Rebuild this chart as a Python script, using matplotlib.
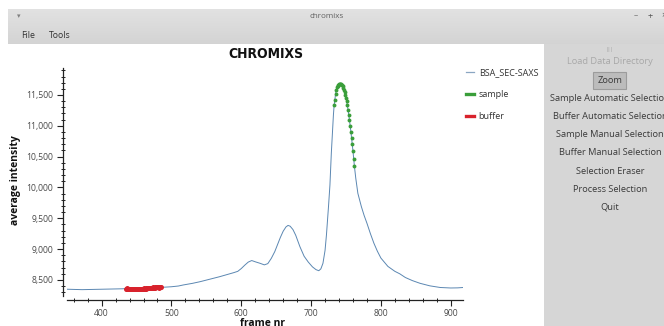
import matplotlib
matplotlib.use('Agg')
import matplotlib.pyplot as plt
from matplotlib.ticker import MultipleLocator, FuncFormatter
from matplotlib.patches import Rectangle
from matplotlib.lines import Line2D
import numpy as np

plt.rcParams['font.family'] = ['Open Sans', 'DejaVu Sans']

# ---------------- data ----------------
trace_frames = [350, 360, 372, 385, 398, 410, 422, 430,
                490, 500, 510, 517, 530, 541, 555, 569, 580, 589, 595, 600, 605,
                610, 615, 620, 627, 633, 638, 643, 648, 652, 656, 660, 664, 667,
                670, 674, 678, 684, 690, 696, 702, 707, 711, 714, 717, 720, 722,
                725, 727, 729, 731, 732,
                764, 767, 772, 776, 780, 785, 790, 795, 800, 810, 820, 827, 835,
                845, 856, 870, 885, 900, 910, 918]
trace_values = [8350, 8346, 8343, 8346, 8350, 8352, 8354, 8357,
                8383, 8390, 8402, 8419, 8445, 8472, 8512, 8553, 8588, 8618, 8640, 8685, 8740,
                8790, 8815, 8795, 8770, 8745, 8765, 8850, 8960, 9075, 9190, 9290, 9360, 9385,
                9372, 9318, 9225, 9040, 8885, 8790, 8712, 8668, 8650, 8680, 8770, 8980, 9230,
                9700, 10040, 10560, 10990, 11180,
                10150, 9905, 9690, 9545, 9420, 9250, 9095, 8965, 8855, 8720, 8640, 8600, 8540,
                8490, 8446, 8405, 8378, 8370, 8372, 8378]

sample_frames = list(range(733, 763))
sample_values = [11330, 11420, 11510, 11580, 11625, 11652, 11668, 11676, 11680, 11680,
                 11674, 11662, 11643, 11618, 11585, 11545, 11500, 11450, 11395, 11330,
                 11255, 11175, 11090, 11000, 10905, 10805, 10700, 10590, 10470, 10350]

buffer_frames = list(range(435, 486))
buffer_values = [8360, 8358, 8362, 8357, 8361, 8356, 8359, 8355, 8360, 8357, 8354,
                 8358, 8355, 8359, 8356, 8353, 8357, 8354, 8358, 8355, 8359, 8356, 8360, 8357, 8361, 8358,
                 8362, 8359, 8363, 8360, 8364, 8362, 8366, 8363, 8368, 8370, 8373, 8371, 8375, 8378, 8376,
                 8379, 8377, 8380, 8378, 8381, 8379, 8377, 8380, 8378, 8381]

series_name = 'BSA_SEC-SAXS'
x_ticks = [400, 500, 600, 700, 800, 900]
buttons = ['Load Data Directory', 'Zoom', 'Sample Automatic Selection',
           'Buffer Automatic Selection', 'Sample Manual Selection',
           'Buffer Manual Selection', 'Selection Eraser', 'Process Selection', 'Quit']
menu_items = ['File', 'Tools']

# ---------------- figure ----------------
W, H = 664, 326
fig = plt.figure(figsize=(W / 100, H / 100), dpi=100, facecolor='white')

def fx(px):
    return px / W

def fy(py):
    return 1 - py / H

# title/menu bar gradient
bar = fig.add_axes([fx(8), fy(44), fx(656), 35 / H], zorder=0)
grad = np.linspace(0, 1, 64).reshape(-1, 1)
top = np.array([0.885, 0.885, 0.885])
bot = np.array([0.83, 0.83, 0.83])
img = top[None, None, :] * (1 - grad[:, :, None]) + bot[None, None, :] * grad[:, :, None]
bar.imshow(img, aspect='auto', extent=[0, 1, 0, 1])
bar.set_axis_off()

fig.text(fx(327), fy(17), 'chromixs', fontsize=5.8, color='#606060', ha='center', va='center')
fig.text(fx(19), fy(16), '▾', fontsize=5, color='#808080', ha='center', va='center',
         family=['DejaVu Sans'])
fig.text(fx(636), fy(16), '–', fontsize=6, color='#555555', ha='center', va='center')
fig.text(fx(650), fy(16), '+', fontsize=6.5, color='#555555', ha='center', va='center')
fig.text(fx(664), fy(16), '×', fontsize=6.5, color='#555555', ha='center', va='center')
fig.text(fx(21), fy(35), menu_items[0], fontsize=6.3, color='#333333', ha='left', va='center')
fig.text(fx(49), fy(35), menu_items[1], fontsize=6.3, color='#333333', ha='left', va='center')

# right panel
fig.patches.append(Rectangle((fx(544), 0), fx(120), fy(44), transform=fig.transFigure,
                             facecolor='#d6d6d6', edgecolor='none', zorder=0))
fig.text(fx(610), fy(50), '|||', fontsize=3.5, color='#999999', ha='center', va='center')
btn_y = [62, 80.5, 98.5, 116.5, 134.5, 152.5, 171, 189, 207]
fig.patches.append(Rectangle((fx(593), fy(88.5)), fx(33), 16 / H, transform=fig.transFigure,
                             facecolor='#bcbcbc', edgecolor='#9c9c9c', linewidth=0.8, zorder=1))
for i, (lab, yy) in enumerate(zip(buttons, btn_y)):
    col = '#a8a8a8' if i == 0 else '#3a3a3a'
    fig.text(fx(610), fy(yy), lab, fontsize=6.7, color=col, ha='center', va='center', zorder=3)

# ---------------- plot ----------------
ax = fig.add_axes([fx(66.7), fy(296), fx(463.3 - 66.7), (296 - 68.3) / H], zorder=2)
ax.set_facecolor('none')

all_f = np.concatenate([trace_frames, sample_frames, buffer_frames])
all_v = np.concatenate([trace_values, sample_values, buffer_values])
order = np.argsort(all_f)
ax.plot(all_f[order], all_v[order], color='#5b87b2', lw=0.7, zorder=2)
ax.plot(sample_frames, sample_values, ls='none', marker='o', ms=2.8,
        color='#3a9e3a', markeredgewidth=0, zorder=3)
ax.plot(buffer_frames, buffer_values, ls='none', marker='o', ms=3.6,
        color='#d8222c', markeredgewidth=0, zorder=3)

ax.set_xlim(350, 918)
ax.set_ylim(8240, 11933)

for s in ['top', 'right']:
    ax.spines[s].set_visible(False)
ax.spines['left'].set_position(('outward', 2.5))
ax.spines['bottom'].set_position(('outward', 3))
for s in ['left', 'bottom']:
    ax.spines[s].set_linewidth(0.9)
    ax.spines[s].set_color('#222222')

ax.set_xticks(x_ticks)
ax.xaxis.set_minor_locator(MultipleLocator(20))
ax.yaxis.set_major_locator(MultipleLocator(500))
ax.yaxis.set_minor_locator(MultipleLocator(100))
ax.yaxis.set_major_formatter(FuncFormatter(lambda v, p: f'{v:,.0f}'))
ax.tick_params(which='major', direction='out', length=4.3, width=0.8, color='#222222',
               labelsize=6.2, labelcolor='#4a4a4a', pad=3)
ax.tick_params(which='minor', direction='inout', length=3, width=0.7, color='#222222')
ax.tick_params(axis='x', which='major', pad=2)

fig.text(fx(266), fy(53.5), 'CHROMIXS', fontsize=10, fontweight='bold', color='#111111',
         ha='center', va='center', family=['DejaVu Sans'], fontstretch='condensed')
fig.text(fx(16), fy(180), 'average intensity', fontsize=7.5, fontweight='bold', color='#111111',
         ha='center', va='center', rotation=90)
fig.text(fx(263), fy(317.5), 'frame nr', fontsize=7.5, fontweight='bold', color='#111111',
         ha='center', va='top')

handles = [Line2D([], [], color='#8aa6c2', lw=0.9),
           Line2D([], [], color='#3a9e3a', lw=2.4),
           Line2D([], [], color='#d8222c', lw=2.4)]
ax.legend(handles, [series_name, 'sample', 'buffer'], loc='upper left',
          bbox_to_anchor=(fx(466), fy(68)), bbox_transform=fig.transFigure,
          frameon=False, fontsize=6.5, handlelength=0.9, handletextpad=0.5,
          labelspacing=1.45, borderpad=0, borderaxespad=0, labelcolor='#333333')

fig.savefig('out.png', dpi=100, facecolor='white')
